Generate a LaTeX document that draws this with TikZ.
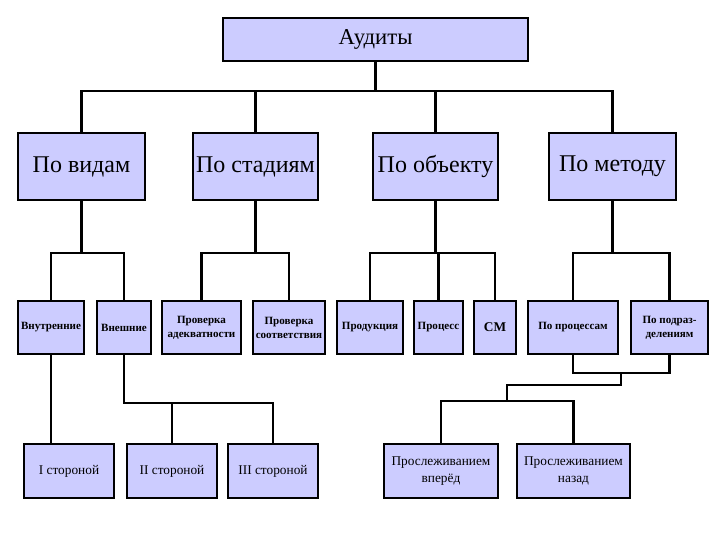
\documentclass[tikz,border=0pt]{standalone}
\usepackage{fontspec}
\setmainfont{Liberation Serif}
\usetikzlibrary{fit,calc}
\definecolor{boxfill}{HTML}{CCCCFF}
\tikzset{
  box/.style={draw=black, line width=0.9pt, fill=boxfill, inner sep=0pt, align=center, text=black},
  lvltop/.style={box, font=\fontsize{17}{20}\selectfont},
  lvltwo/.style={box, font=\fontsize{18}{21}\selectfont},
  lvlthree/.style={box, font=\bfseries\fontsize{8.3}{10.5}\selectfont},
  lvlfour/.style={box, font=\fontsize{10}{13}\selectfont},
  conn/.style={draw=black, line width=1.6pt}
}
\begin{document}
\begin{tikzpicture}[x=0.75pt,y=-0.75pt]
\useasboundingbox (0,0) rectangle (720,540);
% top
\node[lvltop, fit={(223,18) (528,61)}] (A) {};
\node[font=\fontsize{17}{20}\selectfont] at (A.center) (At) {Аудиты};
% level 2
\node[lvltwo, fit={(18,133) (145,200)}] (B1) {};
\node at (B1.center) [font=\fontsize{18}{21}\selectfont] (B1t) {По видам};
\node[lvltwo, fit={(193,133) (318,200)}] (B2) {};
\node at (B2.center) [font=\fontsize{18}{21}\selectfont] (B2t) {По стадиям};
\node[lvltwo, fit={(373,133) (498,200)}] (B3) {};
\node at (B3.center) [font=\fontsize{18}{21}\selectfont] (B3t) {По объекту};
\node[lvltwo, fit={(549,133) (676,200)}] (B4) {};
\node at (B4.center) [font=\fontsize{18}{21}\selectfont] (B4t) {По методу};
% level 3
\node[lvlthree, fit={(18,301) (84,354)}] (C1) {};
\node at (C1.center) [font=\bfseries\fontsize{8.3}{10.5}\selectfont] (C1t) {Внутренние};
\node[lvlthree, fit={(97,301) (151,354)}] (C2) {};
\node at (C2.center) [font=\bfseries\fontsize{8.3}{10.5}\selectfont] (C2t) {Внешние};
\node[lvlthree, fit={(162,301) (241,354)}] (C3) {};
\node at (C3.center) [align=center, font=\bfseries\fontsize{8.3}{10.5}\selectfont] (C3t) {Проверка\\адекватности};
\node[lvlthree, fit={(253,301) (325,354)}] (C4) {};
\node at (C4.center) [align=center, font=\bfseries\fontsize{8.3}{10.5}\selectfont] (C4t) {Проверка\\соответствия};
\node[lvlthree, fit={(337,301) (403,354)}] (C5) {};
\node at (C5.center) [font=\bfseries\fontsize{8.3}{10.5}\selectfont] (C5t) {Продукция};
\node[lvlthree, fit={(414,301) (463,354)}] (C6) {};
\node at (C6.center) [font=\bfseries\fontsize{8.3}{10.5}\selectfont] (C6t) {Процесс};
\node[lvlthree, fit={(474,301) (516,354)}] (C7) {};
\node at (C7.center) [font=\bfseries\fontsize{10}{12}\selectfont] (C7t) {СМ};
\node[lvlthree, fit={(528,301) (618,354)}] (C8) {};
\node at (C8.center) [font=\bfseries\fontsize{8.3}{10.5}\selectfont] (C8t) {По процессам};
\node[lvlthree, fit={(631,301) (708,354)}] (C9) {};
\node at (C9.center) [align=center, font=\bfseries\fontsize{8.3}{10.5}\selectfont] (C9t) {По подраз-\\делениям};
% level 4
\node[lvlfour, fit={(24,444) (114,498)}] (D1) {};
\node at (D1.center) [font=\fontsize{10}{13}\selectfont] (D1t) {I стороной};
\node[lvlfour, fit={(127,444) (217,498)}] (D2) {};
\node at (D2.center) [font=\fontsize{10}{13}\selectfont] (D2t) {II стороной};
\node[lvlfour, fit={(228,444) (318,498)}] (D3) {};
\node at (D3.center) [font=\fontsize{10}{13}\selectfont] (D3t) {III стороной};
\node[lvlfour, fit={(384,444) (498,498)}] (D4) {};
\node at (D4.center) [align=center, font=\fontsize{10}{13}\selectfont] (D4t) {Прослеживанием\\вперёд};
\node[lvlfour, fit={(517,444) (630,498)}] (D5) {};
\node at (D5.center) [align=center, font=\fontsize{10}{13}\selectfont] (D5t) {Прослеживанием\\назад};
% connectors
\coordinate (j0) at ($(A.south)+(0,29)$);
\draw[conn] (A.south) -- (j0);
\draw[conn] (B1.north) |- (j0) -| (B4.north);
\draw[conn] (B2.north) -- (B2.north |- j0);
\draw[conn] (B3.north) -- (B3.north |- j0);
\coordinate (j1) at ($(B1.south)+(0,52)$);
\draw[conn] (B1.south) -- (j1);
\draw[conn] (C1.north) |- (j1) -| (C2.north);
\coordinate (j2) at ($(B2.south)+(0,52)$);
\draw[conn] (B2.south) -- (j2);
\draw[conn] (C3.north) |- (j2) -| (C4.north);
\coordinate (j3) at ($(B3.south)+(0,52)$);
\draw[conn] (B3.south) -- (j3);
\draw[conn] (C5.north) |- (j3) -| (C7.north);
\draw[conn] (C6.north) -- (C6.north |- j3);
\coordinate (j4) at ($(B4.south)+(0,52)$);
\draw[conn] (B4.south) -- (j4);
\draw[conn] (C8.north) |- (j4) -| (C9.north);
\draw[conn] (C1.south) -- (C1.south |- D1.north);
\coordinate (j5) at ($(C2.south)+(0,48)$);
\draw[conn] (C2.south) |- (D3.north |- j5) -- (D3.north);
\draw[conn] (D2.north) -- (D2.north |- j5);
\coordinate (k1) at ($(C8.south)!0.5!(C9.south)+(0,18)$);
\draw[conn] (C8.south) |- (k1) -| (C9.south);
\coordinate (k2) at ($(k1)+(0,12)$);
\coordinate (k3) at ($(D4.north)!0.5!(D5.north)+(0,-42)$);
\draw[conn] (k1) -- (k2) -| (k3);
\draw[conn] (D4.north) |- (k3) -| (D5.north);
\end{tikzpicture}
\end{document}
